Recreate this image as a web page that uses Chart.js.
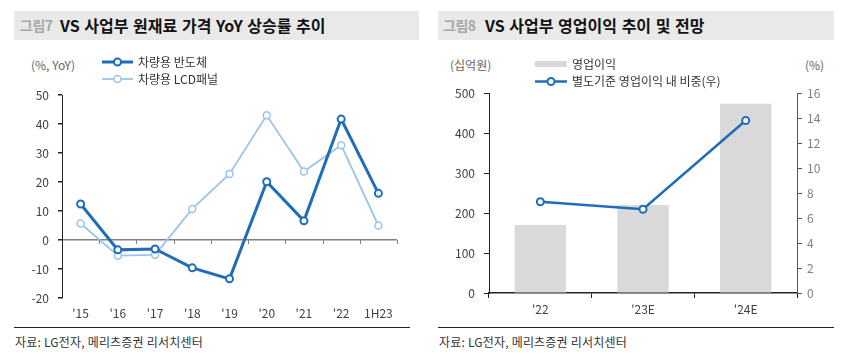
<!DOCTYPE html>
<html><head><meta charset="utf-8">
<script src="https://cdn.jsdelivr.net/npm/chart.js@4.4.0/dist/chart.umd.min.js"></script>
<style>
html,body{margin:0;padding:0;}
body{width:849px;height:356px;background:#fff;position:relative;overflow:hidden;font-family:"Noto Sans CJK KR","Noto Sans",sans-serif;color:#333;}
.band{position:absolute;top:11px;height:29px;background:#e9e9e9;white-space:nowrap;}
.band .n{position:absolute;top:4px;font-size:14px;color:#a8a8a8;font-weight:700;letter-spacing:-0.5px;}
.band .t{position:absolute;top:2px;font-size:16px;font-weight:700;color:#111;letter-spacing:0;word-spacing:1px;}
.rule{position:absolute;top:327px;height:0;border-top:1.5px solid #222;}
.src{position:absolute;top:333px;font-size:12px;color:#333;white-space:nowrap;letter-spacing:0.2px;}
.unit{position:absolute;top:56px;font-size:12px;color:#666;white-space:nowrap;}
canvas{position:absolute;}
</style>
</head>
<body>
<div class="band" style="left:14px;width:405px;"><span class="n" style="left:6px;">그림7</span><span class="t" style="left:46px;">VS 사업부 원재료 가격 YoY 상승률 추이</span></div>
<div class="band" style="left:438px;width:396px;"><span class="n" style="left:5px;">그림8</span><span class="t" style="left:47px;">VS 사업부 영업이익 추이 및 전망</span></div>

<div class="unit" style="left:31px;">(%, YoY)</div>
<div class="unit" style="left:450px;">(십억원)</div>
<div class="unit" style="left:805px;">(%)</div>

<div style="position:absolute;left:0;top:42px;width:420px;height:284px;"><canvas id="c1" width="420" height="284" style="left:0;top:0;width:420px;height:284px;"></canvas></div>
<div style="position:absolute;left:430px;top:42px;width:419px;height:284px;"><canvas id="c2" width="419" height="284" style="left:0;top:0;width:419px;height:284px;"></canvas></div>

<div class="rule" style="left:14px;width:396px;"></div>
<div class="rule" style="left:438px;width:396px;"></div>
<div class="src" style="left:15px;">자료: LG전자, 메리츠증권 리서치센터</div>
<div class="src" style="left:439px;">자료: LG전자, 메리츠증권 리서치센터</div>

<script>
// ---------- Data: chart 1 ----------
const years1 = ["'15", "'16", "'17", "'18", "'19", "'20", "'21", "'22", "1H23"];
const semiName = "차량용 반도체";
const semiYoY = [12.4, -3.4, -3.1, -9.6, -13.4, 20.1, 6.6, 41.7, 16.1];
const lcdName = "차량용 LCD패널";
const lcdYoY = [5.7, -5.4, -5.1, 10.7, 22.8, 43.0, 23.6, 32.7, 5.0];
const y1Ticks = [-20, -10, 0, 10, 20, 30, 40, 50];

// ---------- Data: chart 2 ----------
const years2 = ["'22", "'23E", "'24E"];
const opName = "영업이익";
const opProfit = [170, 220, 473];
const shareName = "별도기준 영업이익 내 비중(우)";
const opShare = [7.3, 6.7, 13.8];
const y2LeftTicks = [0, 100, 200, 300, 400, 500];
const y2RightTicks = [0, 2, 4, 6, 8, 10, 12, 14, 16];

const FONT = '"Noto Sans CJK KR","Noto Sans",sans-serif';
const DARK = '#1f6db8';
const LIGHT = '#9cc4e8';
const BARC = '#d9d9d9';

Chart.defaults.font.family = FONT;
Chart.defaults.font.size = 12;
Chart.defaults.color = '#404040';
Chart.defaults.animation = false;

// Legend drawn with dataset styles
const legendPlugin = {
  id: 'customLegend',
  afterDraw(chart, args, opts) {
    const ctx = chart.ctx;
    ctx.save();
    opts.items.forEach(it => {
      const ds = chart.data.datasets[it.ds];
      if (it.kind === 'box') {
        ctx.fillStyle = ds.backgroundColor;
        ctx.fillRect(it.x1, it.y - 3, it.x2 - it.x1, 6);
      } else {
        ctx.strokeStyle = ds.borderColor;
        ctx.lineWidth = ds.borderWidth;
        ctx.beginPath(); ctx.moveTo(it.x1, it.y); ctx.lineTo(it.x2, it.y); ctx.stroke();
        ctx.beginPath(); ctx.arc((it.x1 + it.x2) / 2, it.y, ds.pointRadius, 0, Math.PI * 2);
        ctx.fillStyle = '#fff'; ctx.fill();
        ctx.lineWidth = ds.pointBorderWidth; ctx.strokeStyle = ds.borderColor; ctx.stroke();
      }
      ctx.fillStyle = '#333';
      ctx.font = '12px ' + FONT;
      ctx.textBaseline = 'middle';
      ctx.textAlign = 'left';
      ctx.fillText(ds.label, it.tx, it.y);
    });
    ctx.restore();
  }
};

// Small tick marks on the zero line between categories
const zeroTicks = {
  id: 'zeroTicks',
  afterDatasetsDraw(chart) {
    const xs = chart.scales.x, ys = chart.scales.y;
    const y0 = ys.getPixelForValue(0);
    const n = xs.ticks.length;
    const step = (xs.right - xs.left) / n;
    const ctx = chart.ctx;
    ctx.save();
    ctx.strokeStyle = '#808080';
    ctx.lineWidth = 1;
    for (let i = 1; i <= n; i++) {
      const px = Math.round(xs.left + step * i) + 0.5;
      ctx.beginPath(); ctx.moveTo(px, y0); ctx.lineTo(px, y0 + 4); ctx.stroke();
    }
    ctx.restore();
  }
};

new Chart(document.getElementById('c1'), {
  type: 'line',
  data: {
    labels: years1,
    datasets: [
      { label: semiName, data: semiYoY, borderColor: DARK, borderWidth: 3, pointRadius: 3.5,
        pointBorderWidth: 2, pointBackgroundColor: '#fff', pointBorderColor: DARK, tension: 0, order: 0 },
      { label: lcdName, data: lcdYoY, borderColor: LIGHT, borderWidth: 1.8, pointRadius: 3.5,
        pointBorderWidth: 1.5, pointBackgroundColor: '#fff', pointBorderColor: LIGHT, tension: 0, order: 1 }
    ]
  },
  options: {
    responsive: false,
    layout: { padding: { top: 53, right: 23, bottom: 0, left: 0 } },
    plugins: {
      legend: { display: false }, tooltip: { enabled: false },
      customLegend: { items: [
        { ds: 0, kind: 'line', x1: 102, x2: 133, y: 20, tx: 138 },
        { ds: 1, kind: 'line', x1: 102, x2: 133, y: 37, tx: 138 }
      ] }
    },
    scales: {
      x: {
        offset: true,
        grid: { display: false, drawTicks: false },
        border: { display: false },
        ticks: { padding: 8, color: '#404040', font: { size: 12 } },
        afterFit: s => { s.height = 28; }
      },
      y: {
        min: -20, max: 50,
        afterBuildTicks: s => { s.ticks = y1Ticks.map(v => ({ value: v })); },
        grid: {
          color: c => (c.tick && c.tick.value === 0) ? '#808080' : 'rgba(0,0,0,0)',
          lineWidth: 1.5,
          tickColor: '#222', tickLength: 4, drawTicks: true
        },
        border: { display: true, color: '#222', width: 1 },
        ticks: { padding: 9, color: '#404040', font: { size: 12 } },
        afterFit: s => { s.width = 62; }
      }
    }
  },
  plugins: [legendPlugin, zeroTicks]
});

new Chart(document.getElementById('c2'), {
  type: 'bar',
  data: {
    labels: years2,
    datasets: [
      { type: 'line', label: shareName, data: opShare, yAxisID: 'yR', borderColor: DARK, borderWidth: 2.5,
        pointRadius: 3.5, pointBorderWidth: 2, pointBackgroundColor: '#fff', pointBorderColor: DARK, tension: 0, order: 0 },
      { type: 'bar', label: opName, data: opProfit, yAxisID: 'y', backgroundColor: BARC,
        categoryPercentage: 0.5, barPercentage: 1, order: 1 }
    ]
  },
  options: {
    responsive: false,
    layout: { padding: { top: 51, right: 0, bottom: 0, left: 0 } },
    plugins: {
      legend: { display: false }, tooltip: { enabled: false },
      customLegend: { items: [
        { ds: 1, kind: 'box', x1: 105, x2: 137, y: 22, tx: 142 },
        { ds: 0, kind: 'line', x1: 105, x2: 137, y: 39.5, tx: 142 }
      ] }
    },
    scales: {
      x: {
        offset: true,
        grid: { offset: true, drawOnChartArea: false, drawTicks: true, tickLength: 5, tickColor: '#222' },
        border: { display: true, color: '#222', width: 1.5 },
        ticks: { padding: 4, color: '#404040', font: { size: 12 } },
        afterFit: s => { s.height = 33; }
      },
      y: {
        position: 'left', min: 0, max: 500,
        afterBuildTicks: s => { s.ticks = y2LeftTicks.map(v => ({ value: v })); },
        grid: { drawOnChartArea: false, tickLength: 5, tickColor: '#222' },
        border: { display: true, color: '#222', width: 1 },
        ticks: { padding: 9, color: '#404040', font: { size: 12 } },
        afterFit: s => { s.width = 59; }
      },
      yR: {
        position: 'right', min: 0, max: 16,
        afterBuildTicks: s => { s.ticks = y2RightTicks.map(v => ({ value: v })); },
        grid: { drawOnChartArea: false, tickLength: 5, tickColor: '#555' },
        border: { display: true, color: '#555', width: 1 },
        ticks: { padding: 5, color: '#808080', font: { size: 12 } },
        afterFit: s => { s.width = 52; }
      }
    }
  },
  plugins: [legendPlugin]
});
</script>
</body></html>
